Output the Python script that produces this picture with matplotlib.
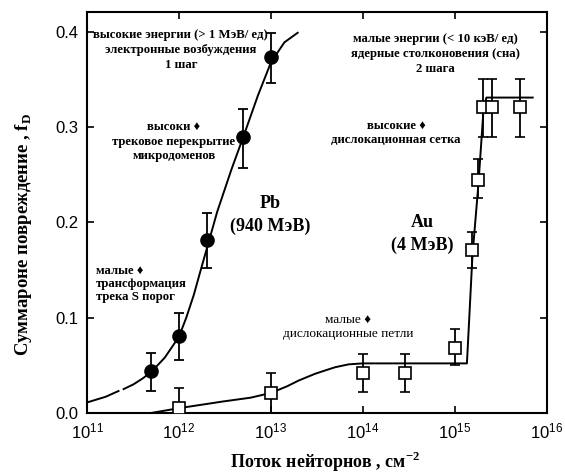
import matplotlib
matplotlib.use('Agg')
import matplotlib.pyplot as plt
import numpy as np

plt.rcParams['font.family'] = ['Liberation Sans', 'DejaVu Sans']
SERIF = ['Liberation Serif', 'DejaVu Serif', 'DejaVu Sans']

# Pb (940 MeV): measured points with error bars
pb_flu = [5e11, 1e12, 2e12, 5e12, 1e13]
pb_fd = [0.044, 0.081, 0.182, 0.290, 0.374]
pb_lo = [0.023, 0.056, 0.152, 0.257, 0.346]
pb_hi = [0.063, 0.105, 0.210, 0.319, 0.399]

# Pb guide curve (first piece dashed)
pb_curve_flu = [1e11, 1.6e11, 2.2e11, 2.5e11, 3.2e11, 4e11, 5e11, 7e11, 1e12,
                1.2e12, 1.45e12, 1.7e12, 2e12, 2.6e12, 3.7e12, 5.1e12, 7.2e12,
                1e13, 1.4e13, 1.95e13]
pb_curve_fd = [0.011, 0.017, 0.023, 0.025, 0.030, 0.036, 0.043, 0.058, 0.080,
               0.100, 0.124, 0.148, 0.172, 0.211, 0.255, 0.292, 0.333,
               0.368, 0.389, 0.399]

# Au (4 MeV)
au_flu = [1e12, 1e13, 1e14, 2.9e14, 1e15, 1.55e15, 1.8e15, 2.0e15, 2.55e15, 5.1e15]
au_fd = [0.005, 0.021, 0.042, 0.042, 0.068, 0.171, 0.245, 0.321, 0.321, 0.321]
au_lo = [0.0, 0.0, 0.022, 0.022, 0.050, 0.152, 0.226, 0.290, 0.290, 0.290]
au_hi = [0.026, 0.042, 0.062, 0.062, 0.088, 0.190, 0.266, 0.350, 0.350, 0.350]

au_curve_flu = [5e11, 1e12, 3e12, 6e12, 1e13, 1.5e13, 2e13, 3e13, 4e13, 5e13,
                7e13, 1e14, 1.35e15, 1.55e15, 1.8e15, 2.05e15, 2.2e15, 7e15]
au_curve_fd = [0.0, 0.005, 0.012, 0.016, 0.021, 0.028, 0.034, 0.041, 0.045, 0.048,
               0.051, 0.052, 0.052, 0.165, 0.240, 0.320, 0.331, 0.331]

fig = plt.figure(figsize=(5.65, 4.73), dpi=100)
ax = fig.add_axes([0.154, 0.127, 0.814, 0.848])

# guide curves
ax.plot(pb_curve_flu[:3], pb_curve_fd[:3], color='black', lw=1.4)
ax.plot(pb_curve_flu[3:], pb_curve_fd[3:], color='black', lw=1.4)
ax.plot(au_curve_flu, au_curve_fd, color='black', lw=1.4)

# error bars + markers
pb_err = [np.array(pb_fd) - np.array(pb_lo), np.array(pb_hi) - np.array(pb_fd)]
ax.errorbar(pb_flu, pb_fd, yerr=pb_err, fmt='o', color='black', ms=9.5,
            elinewidth=1.3, capsize=3.5, capthick=1.3, zorder=5)
au_err = [np.array(au_fd) - np.array(au_lo), np.array(au_hi) - np.array(au_fd)]
ax.errorbar(au_flu, au_fd, yerr=au_err, fmt='s', color='black', mfc='white',
            mec='black', mew=1.2, ms=8, elinewidth=1.3, capsize=3.5,
            capthick=1.3, zorder=5)

ax.set_xscale('log')
ax.set_xlim(1e11, 1e16)
ax.set_ylim(0, 0.421)
ax.set_xticks([1e11, 1e12, 1e13, 1e14, 1e15, 1e16])
ax.xaxis.set_minor_locator(matplotlib.ticker.NullLocator())
ax.set_yticks([0.0, 0.1, 0.2, 0.3, 0.4])
ax.yaxis.set_major_formatter(matplotlib.ticker.FormatStrFormatter('%.1f'))
ax.tick_params(direction='in', length=5, width=1.2, top=True, right=True,
               labelsize=12, pad=6)
for s in ax.spines.values():
    s.set_linewidth(1.5)

ax.set_ylabel('Суммароне повреждение , f$_\\mathregular{D}$', family=SERIF,
              fontweight='bold', fontsize=13.5)
ax.yaxis.set_label_coords(-0.115, 0.444)
ax.set_xlabel('Поток нейторнов , см$^{\\mathregular{-2}}$', family=SERIF,
              fontweight='bold', fontsize=13)
ax.xaxis.set_label_coords(0.517, -0.093)

txt = dict(transform=ax.transAxes, family=SERIF, fontweight='bold',
           fontsize=9.2, ha='center', va='center', linespacing=1.3)
ax.text(0.204, 0.905, 'высокие энергии (> 1 МэВ/ ед)\nэлектронные возбуждения\n1 шаг', **txt)
ax.text(0.189, 0.676, 'высоки ♦\nтрековое перекрытие\nмикродоменов', **txt)
ax.text(0.757, 0.895, 'малые энергии (< 10 кэВ/ ед)\nядерные столконовения (сна)\n2 шага', **txt)
ax.text(0.672, 0.698, 'высокие ♦\nдислокационная сетка', **txt)
ax.text(0.020, 0.322, 'малые ♦\nтрансформация\nтрека S порог',
        **dict(txt, ha='left', linespacing=1.15))
ax.text(0.567, 0.214, 'малые ♦\nдислокационные петли',
        **dict(txt, fontweight='normal', fontsize=9.6))

big = dict(txt, fontsize=13, linespacing=1.4)
ax.text(0.398, 0.494, 'Pb\n(940 МэВ)', **big)
ax.text(0.730, 0.446, 'Au\n(4 МэВ)', **big)

fig.savefig('out.png', dpi=100)
